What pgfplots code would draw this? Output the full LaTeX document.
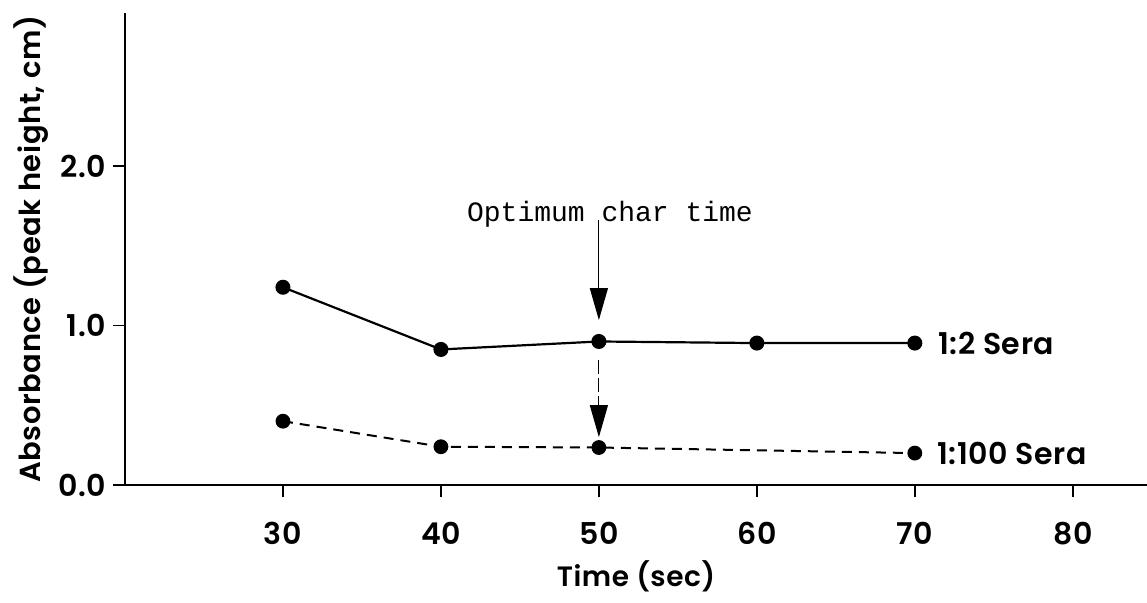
\documentclass[border=0pt]{standalone}
\usepackage{pgfplots}
\pgfplotsset{compat=1.18}
\usepackage{fontspec}
\setmainfont{Poppins}
\newfontfamily\fut{Poppins SemiBold}[LetterSpace=2]
\newfontfamily\monofont{Liberation Mono}
\usetikzlibrary{arrows.meta}

\pgfplotstableread{
x y
30 1.24
40 0.85
50 0.90
60 0.89
70 0.89
}\seratwo
\pgfplotstableread{
x y
30 0.40
40 0.24
50 0.235
70 0.20
}\serahundred

\begin{document}
\begin{tikzpicture}
\begin{axis}[
  scale only axis, width=511pt, height=236pt,
  xmin=20, xmax=84.7, ymin=0, ymax=2.96,
  axis lines=left, axis line style={-, line width=1pt},
  xtick={30,40,50,60,70,80}, ytick={0,1,2},
  tick style={line width=0.8pt, black}, major tick length=6pt,
  tick align=outside,
  yticklabel style={/pgf/number format/.cd, fixed, fixed zerofill, precision=1},
  /pgf/number format/assume math mode=true,
  ticklabel style={font=\fut\fontsize{15}{17}\selectfont},
  xticklabel style={yshift=-9pt},
  xlabel={Time (sec)}, ylabel={Absorbance (peak height, cm)},
  xlabel style={font=\fut\fontsize{14}{16}\selectfont, at={([yshift=-45.5pt]axis description cs:0.5,0)}, anchor=center},
  ylabel style={font=\fut\fontsize{14.5}{18}\selectfont, at={([xshift=-47pt]axis description cs:0,0.5)}, anchor=center},
  clip=false,
]
\coordinate (O) at (rel axis cs:0,0);
\addplot[black, line width=1.1pt, mark=*, mark size=3.2pt] table[x=x,y=y] {\seratwo};
\addplot[black, line width=1pt, dash pattern=on 5pt off 3.5pt, mark=*, mark size=3.2pt, mark options={solid}] table[x=x,y=y] {\serahundred};
\node[anchor=west, inner sep=0, font=\fut\fontsize{15}{18}\selectfont] at (axis cs:70,0.89) [xshift=11.5pt] {1:2 Sera};
\node[anchor=west, inner sep=0, font=\fut\fontsize{15}{18}\selectfont] at (axis cs:70,0.20) [xshift=11pt] {1:100 Sera};
\node[inner sep=0, font=\monofont\fontsize{14}{16}\selectfont] at (axis cs:50.7,1.70) {Optimum char time};
\draw[line width=0.6pt, -{Triangle[length=16pt,width=9pt]}] (axis cs:50,1.66) -- (axis cs:50,1.034);
\draw[line width=0.6pt, dash pattern=on 7pt off 2pt, -{Triangle[length=16pt,width=9pt]}] (axis cs:50,0.784) -- (axis cs:50,0.30);
\end{axis}
\pgfresetboundingbox
\path (O) ++(-62.5pt,-59pt) rectangle ++(573.5pt,301.5pt);
\end{tikzpicture}
\end{document}
